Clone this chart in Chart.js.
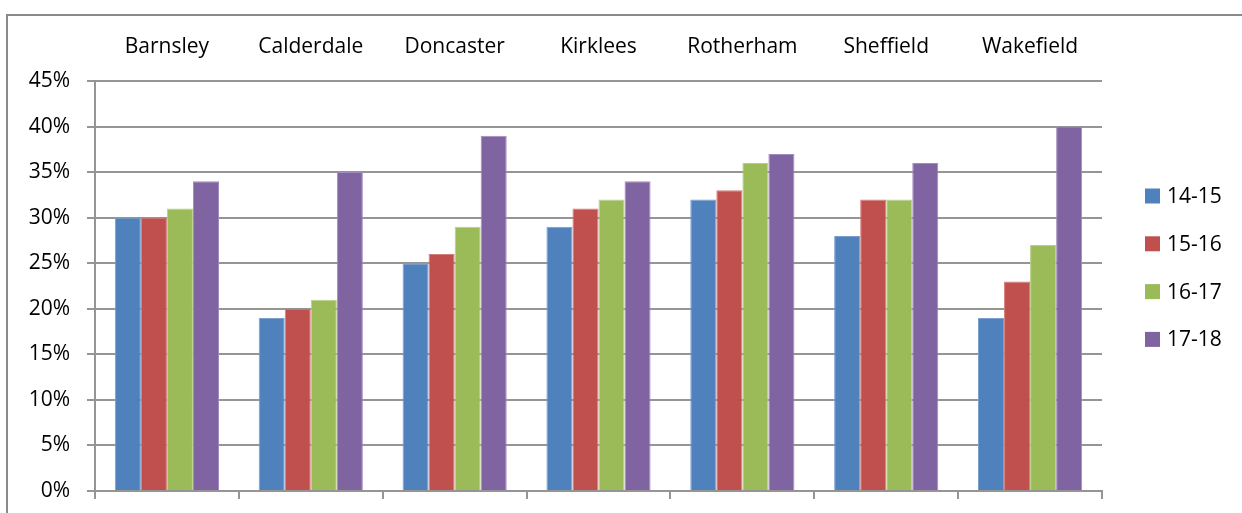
<!DOCTYPE html>
<html>
<head>
<meta charset="utf-8">
<script src="https://cdn.jsdelivr.net/npm/chart.js@4.4.1/dist/chart.umd.min.js"></script>
<style>
  html, body { margin: 0; padding: 0; background: #fff; }
</style>
</head>
<body>
<canvas id="myChart" width="1242" height="513"></canvas>
<script>
const districts = ["Barnsley", "Calderdale", "Doncaster", "Kirklees", "Rotherham", "Sheffield", "Wakefield"];
const years = ["14-15", "15-16", "16-17", "17-18"];

const y1415 = [30, 19, 25, 29, 32, 28, 19];
const y1516 = [30, 20, 26, 31, 33, 32, 23];
const y1617 = [31, 21, 29, 32, 36, 32, 27];
const y1718 = [34, 35, 39, 34, 37, 36, 40];

const yTicks = [0, 5, 10, 15, 20, 25, 30, 35, 40, 45];

const fills = ["#4F81BD", "#C0504D", "#9BBB59", "#8064A2"];
const edges = ["#7a9fd0", "#d27c79", "#b9d08a", "#a08cbf"];
const gridGrey = "#959595";
const font = { family: "'Open Sans', 'Liberation Sans', sans-serif", size: 21 };

const series = [y1415, y1516, y1617, y1718];

// outer frame of the chart object
const frame = {
  id: "frame",
  beforeDraw(chart) {
    const ctx = chart.ctx;
    ctx.save();
    ctx.fillStyle = "#fff";
    ctx.fillRect(0, 0, chart.width, chart.height);
    ctx.strokeStyle = "#8a8a8a";
    ctx.lineWidth = 2;
    ctx.beginPath();
    ctx.moveTo(7, chart.height + 2);
    ctx.lineTo(7, 15);
    ctx.lineTo(chart.width + 2, 15);
    ctx.stroke();
    ctx.restore();
  }
};

// legend on the right, one entry per year
const sideLegend = {
  id: "sideLegend",
  afterDraw(chart) {
    const ctx = chart.ctx;
    ctx.save();
    ctx.font = font.size + "px " + font.family;
    ctx.textBaseline = "middle";
    chart.data.datasets.forEach((ds, i) => {
      const cy = 196 + i * 47.8;
      ctx.fillStyle = ds.backgroundColor;
      ctx.fillRect(1145, cy - 7.5, 15, 15);
      ctx.fillStyle = "#000";
      ctx.fillText(ds.label, 1167, cy + 1);
    });
    ctx.restore();
  }
};

// fixed axis sizes, no extra label overflow padding
const fixSize = (w, h) => axis => {
  if (w !== null) axis.width = w;
  if (h !== null) axis.height = h;
  axis.paddingTop = 0;
  axis.paddingBottom = 0;
  axis.paddingLeft = 0;
  axis.paddingRight = 0;
};

let chart1 = new Chart(document.getElementById("myChart").getContext("2d"), {
  type: "bar",
  data: {
    labels: districts,
    datasets: years.map((y, i) => ({
      label: y,
      data: series[i],
      backgroundColor: fills[i],
      borderColor: edges[i],
      borderWidth: 1,
      categoryPercentage: 0.724,
      barPercentage: 1
    }))
  },
  options: {
    responsive: false,
    animation: false,
    devicePixelRatio: 1,
    layout: { padding: { left: 0, right: 140, top: 0, bottom: 0 } },
    plugins: {
      legend: { display: false },
      tooltip: { enabled: false }
    },
    scales: {
      x: {
        position: "bottom",
        offset: true,
        grid: { offset: true, drawOnChartArea: false, color: gridGrey, lineWidth: 2, tickLength: 8 },
        border: { color: gridGrey, width: 2 },
        ticks: { display: false },
        afterFit: fixSize(null, 22)
      },
      xTop: {
        type: "category",
        position: "top",
        labels: districts,
        offset: true,
        grid: { display: false },
        border: { display: false },
        ticks: { color: "#000", font: font, padding: 13, maxRotation: 0 },
        afterFit: fixSize(null, 81)
      },
      y: {
        min: 0,
        max: 45,
        afterBuildTicks(axis) { axis.ticks = yTicks.map(v => ({ value: v })); },
        grid: { color: gridGrey, lineWidth: 2, tickLength: 8 },
        border: { color: gridGrey, width: 2 },
        ticks: { color: "#000", font: font, padding: 17, callback: v => v + "%" },
        afterFit: fixSize(95, null)
      }
    }
  },
  plugins: [frame, sideLegend]
});
</script>
</body>
</html>
